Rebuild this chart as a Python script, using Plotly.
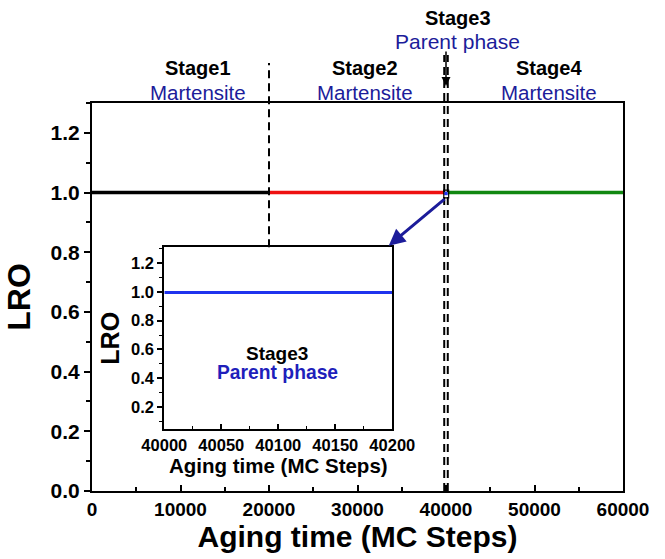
import plotly.graph_objects as go

# ---- data ----
stage1_x = [0, 5000, 10000, 15000, 20000]
stage1_y = [1.0, 1.0, 1.0, 1.0, 1.0]
stage2_x = [20000, 25000, 30000, 35000, 39800]
stage2_y = [1.0, 1.0, 1.0, 1.0, 1.0]
stage3_x = [39800, 40000, 40200]
stage3_y = [0.997, 0.996, 0.997]
stage4_x = [40200, 45000, 50000, 55000, 60000]
stage4_y = [1.0, 1.0, 1.0, 1.0, 1.0]

inset_x = [40000, 40010, 40020, 40025, 40030, 40040, 40050, 40060, 40070, 40080,
           40090, 40100, 40110, 40120, 40130, 40140, 40150, 40155, 40160, 40170,
           40180, 40190, 40200]
inset_y = [0.996, 0.996, 0.995, 0.994, 0.996, 0.995, 0.996, 0.996, 0.995, 0.997,
           0.996, 0.995, 0.996, 0.996, 0.995, 0.996, 0.996, 0.997, 0.995, 0.996,
           0.995, 0.996, 0.995]

stage_bounds = [20000, 39800, 40200]

FONT = "Liberation Sans, Arial, sans-serif"
NAVY = "#1c1c9a"

fig = go.Figure()
fig.add_trace(go.Scatter(x=stage1_x, y=stage1_y, mode="lines", line=dict(color="black", width=3.5), showlegend=False))
fig.add_trace(go.Scatter(x=stage2_x, y=stage2_y, mode="lines", line=dict(color="#ee1111", width=3.5), showlegend=False))
fig.add_trace(go.Scatter(x=stage3_x, y=stage3_y, mode="lines", line=dict(color="#2233ff", width=3.5), showlegend=False))
fig.add_trace(go.Scatter(x=stage4_x, y=stage4_y, mode="lines", line=dict(color="#118811", width=3.5), showlegend=False))
fig.add_trace(go.Scatter(x=inset_x, y=inset_y, mode="lines", line=dict(color="#1f33ee", width=3),
                         xaxis="x2", yaxis="y2", showlegend=False))

W, H = 665, 559
L, R, T, B = 92, 42, 103, 68
pw, ph = W - L - R, H - T - B

def px_x(p):
    return (p - L) / pw

def px_y(p):
    return (H - B - p) / ph

xtickfont = dict(family=FONT, size=19, color="black", weight="bold")
ytickfont = dict(family=FONT, size=21, color="black", weight="bold")
insettick = dict(family=FONT, size=16.5, color="black", weight="bold")
fig.update_layout(
    width=W, height=H,
    margin=dict(l=L, r=R, t=T, b=B),
    paper_bgcolor="white", plot_bgcolor="white",
    font=dict(family=FONT, color="black"),
    xaxis=dict(range=[0, 60000], dtick=10000, tick0=0, tickformat="d", showgrid=False, zeroline=False,
               showline=True, linecolor="black", linewidth=2, mirror=True,
               ticks="inside", ticklen=6, tickwidth=2, tickcolor="black",
               minor=dict(dtick=5000, ticks="inside", ticklen=4, tickwidth=1.5, tickcolor="black"),
               tickfont=xtickfont,
               title=dict(text="Aging time (MC Steps)", standoff=6,
                          font=dict(family=FONT, size=30, weight="bold"))),
    yaxis=dict(range=[0, 1.3], dtick=0.2, tick0=0, tickformat=".1f", showgrid=False, zeroline=False,
               showline=True, linecolor="black", linewidth=2, mirror=True,
               ticks="outside", ticklen=6, tickwidth=2, tickcolor="black",
               minor=dict(dtick=0.1, ticks="outside", ticklen=4, tickwidth=1.5, tickcolor="black"),
               tickfont=ytickfont,
               title=dict(text="LRO", standoff=10, font=dict(family=FONT, size=32, weight="bold"))),
    xaxis2=dict(domain=[px_x(164.3), px_x(392.3)], anchor="y2", range=[40000, 40200], dtick=50,
                tickformat="d",
                showgrid=False, zeroline=False, showline=True, linecolor="black", linewidth=2, mirror=True,
                ticks="inside", ticklen=5, tickwidth=1.5, tickcolor="black",
                minor=dict(dtick=25, ticks="inside", ticklen=3, tickwidth=1, tickcolor="black"),
                tickfont=insettick,
                title=dict(text="Aging time (MC Steps)", standoff=2,
                           font=dict(family=FONT, size=20.5, weight="bold"))),
    yaxis2=dict(domain=[px_y(429.3), px_y(247.3)], anchor="x2", range=[0.045, 1.31], dtick=0.2,
                tick0=0, tickformat=".1f",
                showgrid=False, zeroline=False, showline=True, linecolor="black", linewidth=2, mirror=True,
                ticks="outside", ticklen=5, tickwidth=1.5, tickcolor="black",
                minor=dict(dtick=0.1, ticks="outside", ticklen=3, tickwidth=1, tickcolor="black"),
                tickfont=insettick,
                title=dict(text="LRO", standoff=4, font=dict(family=FONT, size=25, weight="bold"))),
)

# dashed boundary lines
fig.add_shape(type="line", xref="x", yref="paper", x0=stage_bounds[0], x1=stage_bounds[0],
              y0=px_y(247.3), y1=px_y(63), line=dict(color="black", width=2, dash="8px,5px"))
for xb in stage_bounds[1:]:
    fig.add_shape(type="line", xref="x", yref="paper", x0=xb, x1=xb,
                  y0=0, y1=px_y(55), line=dict(color="black", width=2, dash="8px,5px"))

# small box around stage 3
fig.add_shape(type="rect", xref="x", yref="y", x0=39750, x1=40300, y0=0.982, y1=1.008,
              line=dict(color="black", width=1.2))

# arrows
fig.add_annotation(xref="x", yref="paper", x=40000, y=px_y(86), ax=0, ay=-36, text="",
                   showarrow=True, arrowhead=2, arrowsize=1.2, arrowwidth=1.5, arrowcolor="black")
fig.add_annotation(xref="x", yref="y", x=33530, y=0.822, axref="x", ayref="y", ax=40000, ay=0.982,
                   text="", showarrow=True, arrowhead=2, arrowsize=1.1, arrowwidth=3, arrowcolor=NAVY)

# stage labels
def label(xp, yp, text, color, size, bold):
    fig.add_annotation(xref="paper", yref="paper", x=px_x(xp), y=px_y(yp), text=text,
                       showarrow=False, xanchor="center", yanchor="middle",
                       font=dict(family=FONT, size=size, color=color, weight="bold" if bold else "normal"))

for xc, st in [(198, "Stage1"), (365, "Stage2"), (549, "Stage4")]:
    label(xc, 68, st, "black", 20, True)
    label(xc, 92, "Martensite", NAVY, 20.5, False)
label(458, 18, "Stage3", "black", 20, True)
label(457, 42, "Parent phase", NAVY, 21, False)

# inset labels
label(277, 353, "Stage3", "black", 19, True)
label(277, 372, "Parent phase", "#1f1fbb", 19.3, True)

fig.write_html("out.html")
